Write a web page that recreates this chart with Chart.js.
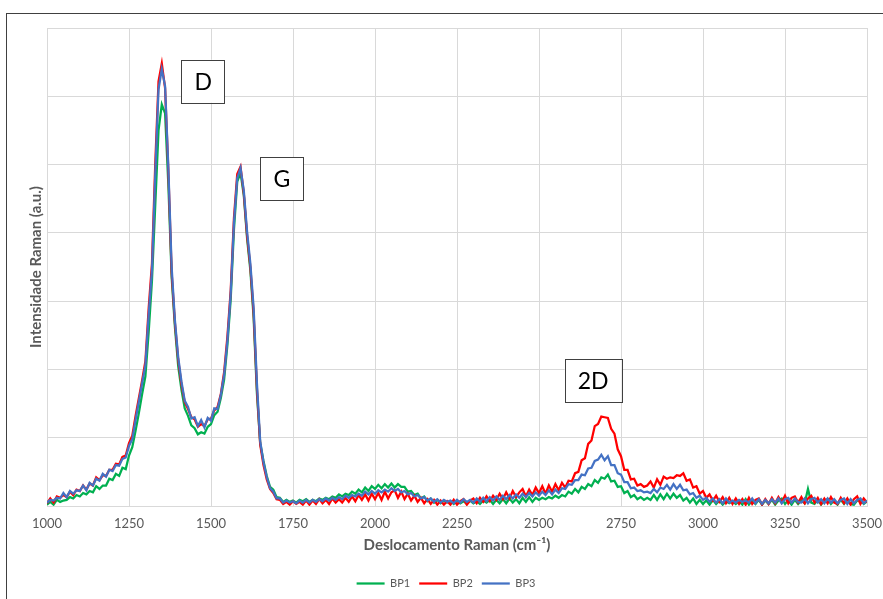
<!DOCTYPE html>
<html>
<head>
<meta charset="utf-8">
<script src="https://cdn.jsdelivr.net/npm/chart.js@4.4.1/dist/chart.umd.min.js"></script>
<style>
    html, body { margin: 0; padding: 0; background: #ffffff; }
    #wrap { position: relative; width: 883px; height: 599px; overflow: hidden; }
    #frame {
        position: absolute; left: 6px; top: 13px; width: 950px; height: 700px;
        border-left: 1px solid #404040; border-top: 1px solid #404040;
        pointer-events: none;
    }
</style>
</head>
<body>
<div id="wrap">
    <canvas id="ramanChart" width="883" height="599"></canvas>
    <div id="frame"></div>
</div>
<script>
// Raman shift (cm-1)
const shifts = [
    1000, 1010, 1020, 1030, 1040, 1050, 1060, 1070, 1080, 1090,
    1100, 1110, 1120, 1130, 1140, 1150, 1160, 1170, 1180, 1190,
    1200, 1210, 1220, 1230, 1240, 1250, 1260, 1270, 1280, 1290,
    1300, 1310, 1320, 1330, 1340, 1350, 1360, 1370, 1380, 1390,
    1400, 1410, 1420, 1430, 1440, 1450, 1460, 1470, 1480, 1490,
    1500, 1510, 1520, 1530, 1540, 1550, 1560, 1570, 1580, 1590,
    1600, 1610, 1620, 1630, 1640, 1650, 1660, 1670, 1680, 1690,
    1700, 1710, 1720, 1730, 1740, 1750, 1760, 1770, 1780, 1790,
    1800, 1810, 1820, 1830, 1840, 1850, 1860, 1870, 1880, 1890,
    1900, 1910, 1920, 1930, 1940, 1950, 1960, 1970, 1980, 1990,
    2000, 2010, 2020, 2030, 2040, 2050, 2060, 2070, 2080, 2090,
    2100, 2110, 2120, 2130, 2140, 2150, 2160, 2170, 2180, 2190,
    2200, 2210, 2220, 2230, 2240, 2250, 2260, 2270, 2280, 2290,
    2300, 2310, 2320, 2330, 2340, 2350, 2360, 2370, 2380, 2390,
    2400, 2410, 2420, 2430, 2440, 2450, 2460, 2470, 2480, 2490,
    2500, 2510, 2520, 2530, 2540, 2550, 2560, 2570, 2580, 2590,
    2600, 2610, 2620, 2630, 2640, 2650, 2660, 2670, 2680, 2690,
    2700, 2710, 2720, 2730, 2740, 2750, 2760, 2770, 2780, 2790,
    2800, 2810, 2820, 2830, 2840, 2850, 2860, 2870, 2880, 2890,
    2900, 2910, 2920, 2930, 2940, 2950, 2960, 2970, 2980, 2990,
    3000, 3010, 3020, 3030, 3040, 3050, 3060, 3070, 3080, 3090,
    3100, 3110, 3120, 3130, 3140, 3150, 3160, 3170, 3180, 3190,
    3200, 3210, 3220, 3230, 3240, 3250, 3260, 3270, 3280, 3290,
    3300, 3310, 3320, 3330, 3340, 3350, 3360, 3370, 3380, 3390,
    3400, 3410, 3420, 3430, 3440, 3450, 3460, 3470, 3480, 3490,
    3500
];

const bp1 = [
    0.02, 0.06, 0.02, 0.09, 0.06, 0.08, 0.09, 0.13, 0.11, 0.16,
    0.14, 0.19, 0.17, 0.22, 0.20, 0.29, 0.25, 0.30, 0.30, 0.40,
    0.38, 0.47, 0.44, 0.56, 0.54, 0.74, 0.86, 1.10, 1.36, 1.64,
    1.90, 2.55, 3.30, 4.40, 5.50, 5.88, 5.75, 4.70, 3.35, 2.62,
    2.05, 1.70, 1.43, 1.32, 1.18, 1.14, 1.05, 1.08, 1.06, 1.16,
    1.20, 1.33, 1.38, 1.58, 1.85, 2.36, 3.02, 4.05, 4.75, 4.88,
    4.55, 3.92, 3.45, 2.75, 1.65, 0.92, 0.66, 0.44, 0.28, 0.24,
    0.13, 0.12, 0.06, 0.09, 0.06, 0.08, 0.05, 0.09, 0.07, 0.10,
    0.06, 0.09, 0.07, 0.11, 0.09, 0.12, 0.10, 0.14, 0.12, 0.17,
    0.14, 0.18, 0.16, 0.21, 0.18, 0.24, 0.20, 0.27, 0.22, 0.29,
    0.25, 0.31, 0.26, 0.32, 0.27, 0.33, 0.27, 0.32, 0.28, 0.28,
    0.21, 0.22, 0.16, 0.18, 0.11, 0.14, 0.07, 0.11, 0.05, 0.09,
    0.04, 0.08, 0.05, 0.07, 0.03, 0.08, 0.04, 0.07, 0.03, 0.08,
    0.04, 0.07, 0.03, 0.08, 0.05, 0.09, 0.03, 0.09, 0.04, 0.10,
    0.04, 0.11, 0.05, 0.10, 0.04, 0.12, 0.06, 0.13, 0.06, 0.12,
    0.09, 0.12, 0.10, 0.13, 0.11, 0.15, 0.12, 0.16, 0.14, 0.21,
    0.18, 0.25, 0.20, 0.28, 0.25, 0.32, 0.29, 0.38, 0.34, 0.42,
    0.40, 0.46, 0.36, 0.37, 0.28, 0.29, 0.19, 0.22, 0.13, 0.16,
    0.10, 0.13, 0.09, 0.12, 0.09, 0.16, 0.09, 0.17, 0.10, 0.18,
    0.11, 0.18, 0.12, 0.16, 0.08, 0.12, 0.05, 0.11, 0.03, 0.09,
    0.03, 0.08, 0.02, 0.09, 0.03, 0.08, 0.02, 0.07, 0.04, 0.07,
    0.03, 0.07, 0.02, 0.10, 0.02, 0.08, 0.03, 0.09, 0.02, 0.08,
    0.03, 0.09, 0.02, 0.08, 0.11, 0.03, 0.08, 0.02, 0.09, 0.03,
    0.08, 0.04, 0.25, 0.05, 0.03, 0.09, 0.02, 0.08, 0.10, 0.03,
    0.08, 0.02, 0.09, 0.03, 0.10, 0.03, 0.02, 0.08, 0.09, 0.03,
    0.07
];

const bp2 = [
    0.04, 0.11, 0.05, 0.14, 0.12, 0.16, 0.13, 0.21, 0.16, 0.24,
    0.22, 0.30, 0.24, 0.33, 0.30, 0.42, 0.38, 0.45, 0.44, 0.53,
    0.53, 0.62, 0.61, 0.72, 0.74, 0.92, 1.03, 1.32, 1.58, 1.84,
    2.12, 2.90, 3.55, 5.00, 6.22, 6.48, 6.12, 4.90, 3.42, 2.68,
    2.14, 1.78, 1.52, 1.42, 1.30, 1.27, 1.16, 1.20, 1.17, 1.27,
    1.28, 1.40, 1.45, 1.64, 1.96, 2.48, 3.15, 4.22, 4.86, 4.97,
    4.58, 3.96, 3.50, 2.82, 1.72, 0.90, 0.60, 0.39, 0.25, 0.19,
    0.10, 0.09, 0.03, 0.06, 0.02, 0.07, 0.03, 0.06, 0.02, 0.08,
    0.02, 0.08, 0.03, 0.10, 0.04, 0.09, 0.03, 0.11, 0.05, 0.10,
    0.05, 0.12, 0.06, 0.14, 0.07, 0.16, 0.09, 0.17, 0.08, 0.18,
    0.10, 0.19, 0.09, 0.21, 0.11, 0.20, 0.23, 0.12, 0.21, 0.10,
    0.18, 0.08, 0.15, 0.06, 0.12, 0.04, 0.10, 0.03, 0.09, 0.02,
    0.08, 0.02, 0.07, 0.02, 0.09, 0.02, 0.07, 0.10, 0.02, 0.08,
    0.11, 0.04, 0.12, 0.06, 0.14, 0.07, 0.15, 0.09, 0.18, 0.10,
    0.20, 0.11, 0.22, 0.13, 0.20, 0.25, 0.14, 0.24, 0.16, 0.27,
    0.19, 0.29, 0.18, 0.30, 0.21, 0.32, 0.23, 0.34, 0.27, 0.37,
    0.36, 0.48, 0.50, 0.67, 0.70, 0.91, 0.96, 1.17, 1.20, 1.31,
    1.30, 1.29, 1.13, 1.06, 0.83, 0.73, 0.53, 0.53, 0.39, 0.40,
    0.30, 0.32, 0.28, 0.30, 0.36, 0.27, 0.39, 0.31, 0.43, 0.40,
    0.42, 0.41, 0.45, 0.44, 0.48, 0.37, 0.39, 0.27, 0.29, 0.18,
    0.22, 0.12, 0.17, 0.08, 0.15, 0.06, 0.13, 0.04, 0.12, 0.03,
    0.11, 0.03, 0.10, 0.02, 0.12, 0.03, 0.09, 0.11, 0.02, 0.10,
    0.03, 0.12, 0.04, 0.13, 0.05, 0.15, 0.04, 0.12, 0.14, 0.05,
    0.13, 0.04, 0.11, 0.15, 0.05, 0.12, 0.03, 0.11, 0.04, 0.13,
    0.05, 0.03, 0.12, 0.04, 0.11, 0.02, 0.10, 0.14, 0.03, 0.11,
    0.05
];

const bp3 = [
    0.05, 0.09, 0.08, 0.12, 0.11, 0.19, 0.13, 0.22, 0.18, 0.23,
    0.22, 0.30, 0.23, 0.34, 0.30, 0.40, 0.37, 0.47, 0.43, 0.53,
    0.51, 0.60, 0.59, 0.69, 0.71, 0.88, 0.98, 1.26, 1.53, 1.80,
    2.06, 2.80, 3.45, 4.85, 6.10, 6.40, 6.15, 4.95, 3.50, 2.72,
    2.18, 1.82, 1.54, 1.45, 1.28, 1.30, 1.17, 1.26, 1.15, 1.29,
    1.25, 1.43, 1.42, 1.63, 1.92, 2.42, 3.10, 4.15, 4.80, 4.95,
    4.62, 4.02, 3.55, 2.90, 1.80, 0.95, 0.64, 0.42, 0.26, 0.21,
    0.11, 0.11, 0.05, 0.08, 0.05, 0.07, 0.04, 0.08, 0.05, 0.09,
    0.05, 0.09, 0.06, 0.10, 0.07, 0.11, 0.08, 0.12, 0.09, 0.13,
    0.10, 0.15, 0.12, 0.16, 0.14, 0.18, 0.15, 0.21, 0.17, 0.22,
    0.18, 0.23, 0.20, 0.24, 0.21, 0.26, 0.22, 0.25, 0.20, 0.22,
    0.17, 0.19, 0.14, 0.16, 0.11, 0.13, 0.08, 0.11, 0.06, 0.10,
    0.05, 0.09, 0.06, 0.08, 0.04, 0.09, 0.05, 0.10, 0.06, 0.09,
    0.05, 0.11, 0.06, 0.12, 0.07, 0.13, 0.08, 0.14, 0.09, 0.15,
    0.10, 0.16, 0.11, 0.17, 0.12, 0.18, 0.13, 0.19, 0.14, 0.20,
    0.15, 0.21, 0.16, 0.23, 0.17, 0.24, 0.19, 0.26, 0.25, 0.32,
    0.31, 0.38, 0.38, 0.46, 0.45, 0.55, 0.56, 0.66, 0.68, 0.75,
    0.67, 0.73, 0.60, 0.60, 0.48, 0.46, 0.35, 0.35, 0.26, 0.27,
    0.22, 0.23, 0.20, 0.21, 0.19, 0.25, 0.20, 0.27, 0.25, 0.31,
    0.24, 0.32, 0.25, 0.31, 0.23, 0.24, 0.17, 0.19, 0.12, 0.15,
    0.09, 0.12, 0.06, 0.11, 0.05, 0.10, 0.04, 0.11, 0.05, 0.08,
    0.05, 0.09, 0.06, 0.08, 0.05, 0.11, 0.04, 0.10, 0.03, 0.09,
    0.04, 0.10, 0.05, 0.11, 0.04, 0.10, 0.12, 0.05, 0.11, 0.06,
    0.05, 0.11, 0.04, 0.10, 0.12, 0.05, 0.10, 0.04, 0.11, 0.05,
    0.10, 0.04, 0.09, 0.11, 0.03, 0.10, 0.04, 0.09, 0.11, 0.04,
    0.08
];

// peak labels, anchored in data units (cm-1, intensity)
const peakNames = ["D", "G", "2D"];
const peakShift = [1476, 1716, 2665];
const peakLevel = [6.22, 4.79, 1.84];

const seriesNames = ["BP1", "BP2", "BP3"];
const seriesColors = ["#00b050", "#ff0000", "#4472c4"];
const seriesData = [bp1, bp2, bp3];

const FONT = "Lato, 'Open Sans', sans-serif";
const GREY = "#595959";
const GRID = "#d9d9d9";

function toPoints(values) {
    return values.map((v, i) => ({ x: shifts[i], y: v }));
}

const peakBoxes = {
    id: "peakBoxes",
    afterDatasetsDraw(chart) {
        const { ctx, scales } = chart;
        ctx.save();
        ctx.font = "23px " + FONT;
        ctx.textAlign = "center";
        ctx.textBaseline = "middle";
        peakNames.forEach((name, i) => {
            const cx = scales.x.getPixelForValue(peakShift[i]);
            const cy = scales.y.getPixelForValue(peakLevel[i]);
            const w = ctx.measureText(name).width + 26;
            const h = 43;
            ctx.fillStyle = "#ffffff";
            ctx.fillRect(cx - w / 2, cy - h / 2, w, h);
            ctx.strokeStyle = "#404040";
            ctx.lineWidth = 1;
            ctx.strokeRect(Math.round(cx - w / 2) + 0.5, Math.round(cy - h / 2) + 0.5, Math.round(w), h);
            ctx.fillStyle = "#000000";
            ctx.fillText(name, cx, cy + 1);
        });
        ctx.restore();
    }
};

const chart = new Chart(document.getElementById("ramanChart").getContext("2d"), {
    type: "line",
    data: {
        datasets: seriesNames.map((name, i) => ({
            label: name,
            data: toPoints(seriesData[i]),
            borderColor: seriesColors[i],
            backgroundColor: seriesColors[i],
            borderWidth: 2.25,
            pointRadius: 0,
            tension: 0,
            order: 2 - i
        }))
    },
    options: {
        responsive: false,
        animation: false,
        layout: { padding: { left: 25, right: 16, top: 28, bottom: 0 } },
        plugins: {
            tooltip: { enabled: false },
            legend: {
                position: "bottom",
                labels: {
                    color: GREY,
                    font: { family: FONT, size: 11 },
                    usePointStyle: true,
                    pointStyle: "line",
                    pointStyleWidth: 28,
                    padding: 9,
                    sort: (a, b) => a.datasetIndex - b.datasetIndex
                }
            }
        },
        scales: {
            x: {
                type: "linear",
                min: 1000,
                max: 3500,
                ticks: {
                    stepSize: 250,
                    color: GREY,
                    font: { family: FONT, size: 13 },
                    padding: 10,
                    callback: (v) => String(v)
                },
                grid: { color: GRID, drawTicks: false },
                border: { color: GRID },
                title: {
                    display: true,
                    text: "Deslocamento Raman (cm⁻¹)",
                    color: GREY,
                    font: { family: FONT, size: 15, weight: "bold" },
                    padding: { top: 4, bottom: 15 }
                },
                afterFit(axis) {
                    axis.height = 63;
                    axis.paddingLeft = 0;
                    axis.paddingRight = 0;
                }
            },
            y: {
                min: 0,
                max: 7,
                ticks: { display: false, stepSize: 1 },
                grid: { color: GRID, drawTicks: false },
                border: { display: false },
                title: {
                    display: true,
                    text: "Intensidade Raman (a.u.)",
                    color: GREY,
                    font: { family: FONT, size: 15, weight: "bold" },
                    padding: { top: 2, bottom: 2 }
                },
                afterFit(axis) { axis.width = 22; }
            }
        }
    },
    plugins: [peakBoxes]
});
</script>
</body>
</html>
